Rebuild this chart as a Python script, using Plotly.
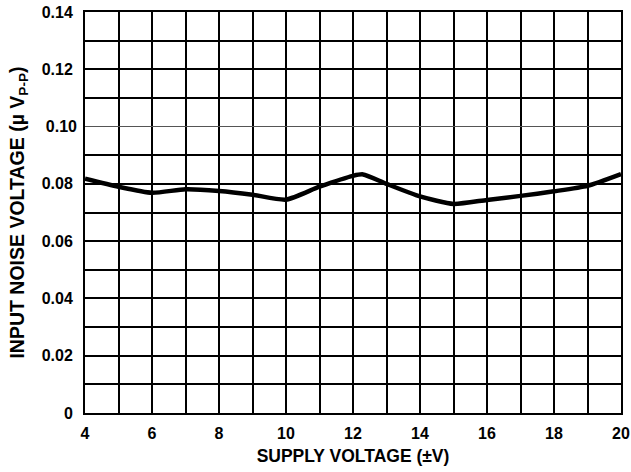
import plotly.graph_objects as go

supply_v = [4, 5, 6, 7, 8, 9, 10, 11, 12, 12.3, 13, 14, 15, 16, 17, 18, 19, 20]
noise_uv = [0.0818, 0.0790, 0.0769, 0.0781, 0.0775, 0.0762, 0.0745, 0.0790, 0.0828,
            0.0833, 0.0800, 0.0756, 0.0730, 0.0744, 0.0758, 0.0774, 0.0793, 0.0834]

x_ticks = [4, 6, 8, 10, 12, 14, 16, 18, 20]
x_minor = [5, 7, 9, 11, 13, 15, 17, 19]
y_ticks = [0, 0.02, 0.04, 0.06, 0.08, 0.12, 0.14]
y_ticktext = ["0", "0.02", "0.04", "0.06", "0.08", "0.12", "0.14"]
y_minor = [0.01, 0.03, 0.05, 0.07, 0.09, 0.11, 0.13]
y_thin = [0.10]
y_thin_text = ["0.10"]

FONT = "Liberation Sans, Arial, sans-serif"

fig = go.Figure()
fig.add_trace(go.Scatter(
    x=supply_v, y=noise_uv, mode="lines",
    line=dict(color="black", width=4.5, shape="spline", smoothing=0.6),
    showlegend=False, hoverinfo="skip"))
fig.add_trace(go.Scatter(x=[4], y=[0], yaxis="y2", mode="markers",
                         marker=dict(opacity=0), showlegend=False, hoverinfo="skip"))

fig.update_layout(
    width=631, height=472,
    margin=dict(l=85, r=10, t=12, b=59),
    paper_bgcolor="white", plot_bgcolor="white",
    font=dict(family=FONT, color="black", size=16, weight="bold"),
    xaxis=dict(
        range=[4, 20], tickvals=x_ticks, ticktext=[str(v) for v in x_ticks],
        showgrid=True, gridcolor="black", gridwidth=2,
        minor=dict(tickvals=x_minor, showgrid=True, gridcolor="black", gridwidth=2),
        showline=True, linecolor="black", linewidth=2, mirror=True,
        ticks="", zeroline=False, automargin=False, ticklabelstandoff=5,
        ticklabeloverflow="allow",
        tickfont=dict(family=FONT, size=16, weight="bold"),
        title=dict(text="SUPPLY VOLTAGE (±V)", standoff=9,
                   font=dict(family=FONT, size=17.5, weight="bold")),
    ),
    yaxis=dict(
        range=[0, 0.14], tickvals=y_ticks, ticktext=y_ticktext,
        showgrid=True, gridcolor="black", gridwidth=2,
        minor=dict(tickvals=y_minor, showgrid=True, gridcolor="black", gridwidth=2),
        showline=True, linecolor="black", linewidth=2, mirror=True,
        ticks="", zeroline=False, automargin=False, ticklabelstandoff=7,
        ticklabeloverflow="allow",
        tickfont=dict(family=FONT, size=16, weight="bold"),
        title=dict(text="INPUT NOISE VOLTAGE (µ V<sub>P-P</sub>)",
                   standoff=12,
                   font=dict(family=FONT, size=19.5, weight="bold")),
    ),
    yaxis2=dict(
        range=[0, 0.14], overlaying="y", side="left",
        tickvals=y_thin, ticktext=y_thin_text,
        showgrid=True, gridcolor="#555555", gridwidth=1,
        ticks="", zeroline=False, showline=False, automargin=False,
        ticklabelstandoff=7, ticklabeloverflow="allow",
        tickfont=dict(family=FONT, size=16, weight="bold"),
    ),
)

fig.write_html("out.html", config={"displayModeBar": False},
               post_script="document.body.style.margin='0';")
